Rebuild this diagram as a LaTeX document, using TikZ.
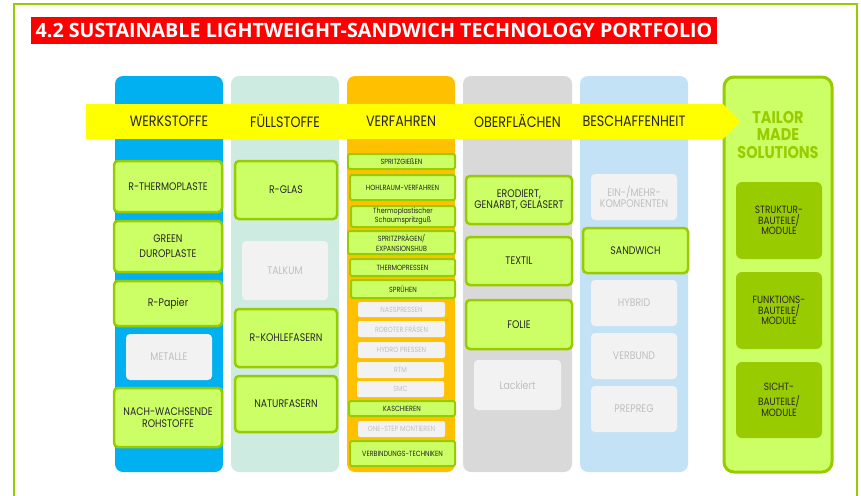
\documentclass[tikz,border=0pt]{standalone}
\usepackage{fontspec}
\setmainfont{Poppins}[FakeStretch=0.85]
\newfontfamily\titlefont{Open Sans}
\definecolor{werkblue}{HTML}{00B0F0}
\definecolor{fuellmint}{HTML}{CDEBE0}
\definecolor{verforange}{HTML}{FFC000}
\definecolor{obergray}{HTML}{D9D9D9}
\definecolor{beschblue}{HTML}{C4E2F6}
\definecolor{limegreen}{HTML}{CCFF66}
\definecolor{olivegreen}{HTML}{99CC00}
\definecolor{palegray}{HTML}{F2F2F2}
\definecolor{fadetext}{HTML}{BFBFBF}
\definecolor{arrowyellow}{HTML}{FFFF00}
\begin{document}
\begin{tikzpicture}[x=1pt,y=-1pt,
  column/.style={rounded corners=8pt,minimum width=108,minimum height=396,inner sep=0pt},
  head/.style={font=\fontsize{15}{17}\selectfont,text=black!85},
  gbox/.style={draw=olivegreen,fill=limegreen,line width=2.5pt,rounded corners=4pt,align=center,
    inner sep=1pt,text=black!85,font=\fontsize{11}{11.5}\selectfont},
  gsmall/.style={gbox,line width=2pt,rounded corners=2pt,font=\fontsize{7.5}{9}\selectfont},
  fadebox/.style={fill=palegray,rounded corners=4pt,align=center,inner sep=1pt,text=fadetext,
    font=\fontsize{11}{10.5}\selectfont},
  fsmall/.style={fadebox,rounded corners=2pt,font=\fontsize{7.5}{9}\selectfont},
  dbox/.style={fill=olivegreen,rounded corners=6pt,align=center,inner sep=1pt,text=black!85,
    minimum width=86,font=\fontsize{10.5}{10.5}\selectfont}]
\useasboundingbox (0,0) rectangle (861,495);
\clip (0,0) rectangle (861,495);
\draw[olivegreen,line width=2pt] (14,4) rectangle (857,520);
% title
\node[fill=red,text=white,font=\titlefont\bfseries\fontsize{19.7}{21}\selectfont,inner sep=0pt,
  minimum width=686,minimum height=27] (title) at (374,30.5)
  {4.2 SUSTAINABLE LIGHTWEIGHT-SANDWICH TECHNOLOGY PORTFOLIO};
% columns
\node[column,fill=werkblue] (werk) at (169,274) {};
\node[column,fill=fuellmint] (fuell) at (285,274) {};
\node[column,fill=verforange] (verf) at (401,274) {};
\node[column,fill=obergray,minimum width=109] (ober) at (517.5,274) {};
\node[column,fill=beschblue] (besch) at (634,274) {};
\node[draw=olivegreen,fill=limegreen,line width=3pt,rounded corners=10pt,minimum width=108,
  minimum height=395] (tailor) at (778,274.5) {};
% arrow
\fill[arrowyellow] (86,104) -- (723,104) -- (740,121.5) -- (723,139) -- (86,139) -- cycle;
\node[head] (hwerk) at (169,121) {WERKSTOFFE};
\node[head] (hfuell) at (285,121) {FÜLLSTOFFE};
\node[head] (hverf) at (401,121) {VERFAHREN};
\node[head] (hober) at (517.5,121) {OBERFLÄCHEN};
\node[head] (hbesch) at (634,121) {BESCHAFFENHEIT};
\node[text=olivegreen,align=center,font=\bfseries\fontsize{17}{17.5}\selectfont] (tms) at (778,135)
  {TAILOR\\MADE\\SOLUTIONS};
% werkstoffe
\node[gbox,minimum width=108,minimum height=51] (rthermo) at (168,186.5) {R-THERMOPLASTE};
\node[gbox,minimum width=108,minimum height=51] (greendur) at (168,246.5) {GREEN\\[3.5pt]DUROPLASTE};
\node[gbox,minimum width=108,minimum height=45] (rpapier) at (168,303.5) {R-Papier};
\node[fadebox,minimum width=86,minimum height=46] (metalle) at (169,357) {METALLE};
\node[gbox,minimum width=108,minimum height=59] (nachw) at (168,417.5) {NACH-WACHSENDE\\ROHSTOFFE};
% fuellstoffe
\node[gbox,minimum width=102,minimum height=58] (rglas) at (286,190) {R-GLAS};
\node[fadebox,minimum width=86,minimum height=59] (talkum) at (285,270.5) {TALKUM};
\node[gbox,minimum width=102,minimum height=58] (rkohle) at (286,338) {R-KOHLEFASERN};
\node[gbox,minimum width=102,minimum height=56] (natur) at (286,404) {NATURFASERN};
% verfahren
\node[gsmall,minimum width=107,minimum height=15] (spritzg) at (401.5,161.5) {SPRITZGIEßEN};
\node[gsmall,minimum width=105,minimum height=25] (hohlraum) at (402.5,187.5) {HOHLRAUM-VERFAHREN};
\node[gsmall,minimum width=104,minimum height=21] (schaum) at (403,216.5) {Thermoplastischer\\Schaumspritzguß};
\node[gsmall,minimum width=107,minimum height=23] (spritzpr) at (401.5,242.5) {SPRITZPRÄGEN/\\[1pt]EXPANSIONSHUB};
\node[gsmall,minimum width=105,minimum height=17] (thermopr) at (402.5,267.5) {THERMOPRESSEN};
\node[gsmall,minimum width=104,minimum height=18] (spruehen) at (403,289) {SPRÜHEN};
\node[fsmall,minimum width=87,minimum height=15] (nass) at (401.5,309.5) {NASSPRESSEN};
\node[fsmall,minimum width=87,minimum height=16] (roboter) at (401.5,329) {ROBOTER FRÄSEN};
\node[fsmall,minimum width=87,minimum height=16] (hydro) at (401.5,350) {HYDRO PRESSEN};
\node[fsmall,minimum width=87,minimum height=16] (rtm) at (400.5,370) {RTM};
\node[fsmall,minimum width=87,minimum height=16] (smc) at (400.5,389) {SMC};
\node[gsmall,minimum width=106,minimum height=15] (kasch) at (402,408.5) {KASCHIEREN};
\node[fsmall,minimum width=87,minimum height=16] (onestep) at (401.5,429) {ONE-STEP MONTIEREN};
\node[gsmall,minimum width=105,minimum height=25] (verbind) at (402.5,453.5) {VERBINDUNGS-TECHNIKEN};
% oberflaechen
\node[gbox,minimum width=106,minimum height=48] (erod) at (519,200) {ERODIERT,\\[-1pt]GENARBT, GELASERT};
\node[gbox,minimum width=106,minimum height=48] (textil) at (519,261) {TEXTIL};
\node[gbox,minimum width=106,minimum height=49] (folie) at (519,324.5) {FOLIE};
\node[fadebox,minimum width=87,minimum height=50] (lack) at (517.5,385) {Lackiert};
% beschaffenheit
\node[fadebox,minimum width=86,minimum height=46] (einmehr) at (634,197) {EIN-/MEHR-\\KOMPONENTEN};
\node[gbox,minimum width=105,minimum height=45] (sandwich) at (635.5,250.5) {SANDWICH};
\node[fadebox,minimum width=86,minimum height=46] (hybrid) at (634,303) {HYBRID};
\node[fadebox,minimum width=86,minimum height=46] (verbund) at (634,356) {VERBUND};
\node[fadebox,minimum width=86,minimum height=46] (prepreg) at (634,409) {PREPREG};
% tailor made
\node[dbox,minimum height=77] (struktur) at (779,220.5) {STRUKTUR-\\BAUTEILE/\\MODULE};
\node[dbox,minimum height=77] (funktion) at (779,310.5) {FUNKTIONS-\\BAUTEILE/\\MODULE};
\node[dbox,minimum height=76] (sicht) at (779,400) {SICHT-\\[4.5pt]BAUTEILE/\\MODULE};
\end{tikzpicture}
\end{document}
